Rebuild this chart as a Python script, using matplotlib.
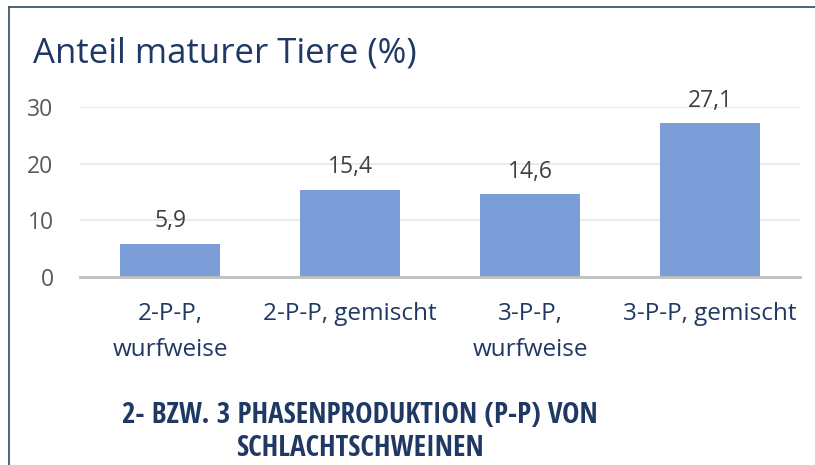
import matplotlib.pyplot as plt
from matplotlib.lines import Line2D

categories = ["2-P-P,\nwurfweise", "2-P-P, gemischt", "3-P-P,\nwurfweise", "3-P-P, gemischt"]
values = [5.9, 15.4, 14.6, 27.1]
yticks = [0, 10, 20, 30]

title = "Anteil maturer Tiere (%)"
xtitle = "2- BZW. 3 PHASENPRODUKTION (P-P) VON\nSCHLACHTSCHWEINEN"

navy = "#1F3864"
plt.rcParams['font.family'] = ['Open Sans', 'DejaVu Sans']

fig = plt.figure(figsize=(8.15, 4.65), dpi=100)
ax = fig.add_axes([80 / 815, 188 / 465, 720 / 815, 170 / 465])

x = range(len(categories))
bars = ax.bar(x, values, width=0.555, color="#7C9ED8", zorder=2)

# value labels above the bars
for xi, v in zip(x, values):
    ax.annotate(f"{v:.1f}".replace(".", ","), (xi, v), xytext=(0, 12),
                textcoords="offset points", ha="center", va="baseline",
                fontsize=16.5, color="#404040")

ax.set_xlim(-0.5, len(categories) - 0.5)
ax.set_ylim(0, 30)
ax.set_yticks(yticks)
ax.set_xticks(list(x))
ax.set_xticklabels(categories, color=navy, fontsize=17.5, linespacing=1.65)
ax.tick_params(axis="x", length=0, pad=18)
ax.tick_params(axis="y", length=0, pad=19, labelsize=16.5, labelcolor="#595959")
ax.grid(axis="y", color="#E6E6E6", linewidth=1.2, zorder=0)
for s in ["top", "right", "left"]:
    ax.spines[s].set_visible(False)
ax.spines["bottom"].set_color("#BFBFBF")
ax.spines["bottom"].set_linewidth(2)
ax.spines["bottom"].set_zorder(3)

fig.text(33 / 815, 1 - 62 / 465, title, fontsize=25, color=navy,
         ha="left", va="baseline")
fig.text(360 / 815, 1 - 432 / 465, xtitle, fontsize=21, color=navy,
         fontweight="bold", ha="center", va="center", linespacing=1.21,
         fontstretch="condensed",
         family=['Open Sans Condensed', 'Roboto Condensed', 'DejaVu Sans'])

# chart frame (only top and left edge visible)
fig.add_artist(Line2D([8.5 / 815, 8.5 / 815], [0, 1 - 7.5 / 465],
                      transform=fig.transFigure, color="#44546A", lw=1.3))
fig.add_artist(Line2D([8.5 / 815, 1], [1 - 7.5 / 465, 1 - 7.5 / 465],
                      transform=fig.transFigure, color="#44546A", lw=1.3))

fig.savefig("out.png", dpi=100)
